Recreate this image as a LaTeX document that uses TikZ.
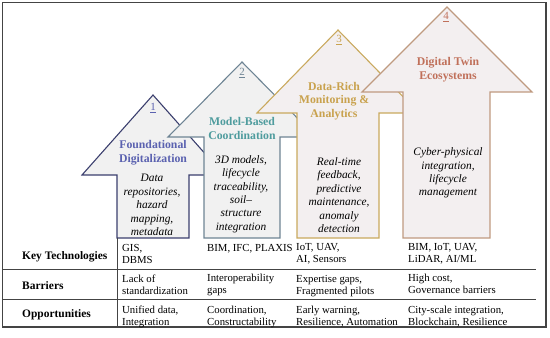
\documentclass[tikz,border=0pt]{standalone}
\usepackage{fontspec}
\setmainfont{Liberation Serif}
\definecolor{aone}{HTML}{3B3F6E}
\definecolor{tone}{HTML}{5B62B0}
\definecolor{atwo}{HTML}{6E8494}
\definecolor{ttwo}{HTML}{4F9C9E}
\definecolor{athree}{HTML}{C9A95E}
\definecolor{tthree}{HTML}{C9A24E}
\definecolor{afour}{HTML}{BF9A80}
\definecolor{tfour}{HTML}{C0705A}
\definecolor{arrfill}{HTML}{F1F1F1}
\definecolor{arrfillw}{HTML}{F3EFF0}
\definecolor{frame}{HTML}{444444}
\tikzset{
  arrowshape/.style={line width=1.1pt, line join=miter},
  headtxt/.style={font=\fontsize{11.8}{13.5}\selectfont\bfseries, align=center, inner sep=0pt},
  bodytxt/.style={font=\fontsize{11.4}{13.5}\selectfont\itshape, align=center, inner sep=0pt},
  numtxt/.style={font=\fontsize{11}{12}\selectfont, inner sep=0pt},
  celltxt/.style={font=\fontsize{10.8}{12}\selectfont, align=left, anchor=base west, inner sep=0pt},
  labtxt/.style={font=\fontsize{11.5}{12}\selectfont\bfseries, anchor=base west, inner sep=0pt},
  rule/.style={draw=frame, line width=0.8pt}
}
\begin{document}
\begin{tikzpicture}[x=1bp, y=-1bp]
\useasboundingbox (0,0) rectangle (550,337);
% arrows
\draw[arrowshape, draw=aone, fill=arrfill]
  (153,95) -- (224,175) -- (189,175) -- (189,238) -- (117,238) -- (117,175) -- (82,175) -- cycle;
\draw[arrowshape, draw=atwo, fill=arrfill]
  (242,62) -- (316,137) -- (280,137) -- (280,238) -- (204,238) -- (204,137) -- (168,137) -- cycle;
\draw[arrowshape, draw=athree, fill=arrfillw]
  (338,30) -- (419,113) -- (379,113) -- (379,238) -- (297,238) -- (297,113) -- (257,113) -- cycle;
\draw[arrowshape, draw=afour, fill=arrfillw]
  (447,7) -- (532,92) -- (490,92) -- (490,238) -- (403,238) -- (403,92) -- (362,92) -- cycle;
% numbers
\node[numtxt, text=tone] (n1) at (153,108) {\underline{1}};
\node[numtxt, text=atwo] (n2) at (242,73) {\underline{2}};
\node[numtxt, text=tthree] (n3) at (339,40) {\underline{3}};
\node[numtxt, text=tfour] (n4) at (446,17) {\underline{4}};
% headings
\node[headtxt, text=tone] (h1) at (153,152.5) {Foundational\\Digitalization};
\node[headtxt, text=ttwo] (h2) at (242,128.5) {Model-Based\\Coordination};
\node[headtxt, text=tthree] (h3) at (334,101) {Data-Rich\\Monitoring \&\\Analytics};
\node[headtxt, text=tfour] (h4) at (448,69.5) {Digital Twin\\Ecosystems};
% bodies
\node[bodytxt] (b1) at (152,205) {Data\\repositories,\\hazard\\mapping,\\metadata};
\node[bodytxt] (b2) at (241,194) {3D models,\\lifecycle\\traceability,\\soil–\\structure\\integration};
\node[bodytxt] (b3) at (339,195) {Real-time\\feedback,\\predictive\\maintenance,\\anomaly\\detection};
\node[bodytxt] (b4) at (448,173) {Cyber-physical\\integration,\\lifecycle\\management};
% table rules
\draw[rule] (117,238) -- (117,327);
\draw[rule] (2.5,269) -- (536,269);
\draw[rule] (2.5,299) -- (536,299);
% frame
\draw[draw=frame, line width=1.2pt] (2.5,2.5) rectangle (546,327);
% labels
\node[labtxt] (l1) at (22,259) {Key Technologies};
\node[labtxt] (l2) at (22,289) {Barriers};
\node[labtxt] (l3) at (22,317) {Opportunities};
% cells row 1 (base = last line)
\node[celltxt] (c11) at (122,263) {GIS,\\DBMS};
\node[celltxt] (c12) at (207,251) {BIM, IFC, PLAXIS};
\node[celltxt] (c13) at (296,262) {IoT, UAV,\\AI, Sensors};
\node[celltxt] (c14) at (408,262) {BIM, IoT, UAV,\\LiDAR, AI/ML};
% row 2
\node[celltxt] (c21) at (122,294) {Lack of\\standardization};
\node[celltxt] (c22) at (207,293) {Interoperability\\gaps};
\node[celltxt] (c23) at (296,294) {Expertise gaps,\\Fragmented pilots};
\node[celltxt] (c24) at (408,293) {High cost,\\Governance barriers};
% row 3
\node[celltxt] (c31) at (122,325) {Unified data,\\Integration};
\node[celltxt] (c32) at (207,325) {Coordination,\\Constructability};
\node[celltxt] (c33) at (296,325) {Early warning,\\Resilience, Automation};
\node[celltxt] (c34) at (408,325) {City-scale integration,\\Blockchain, Resilience};
\end{tikzpicture}
\end{document}
